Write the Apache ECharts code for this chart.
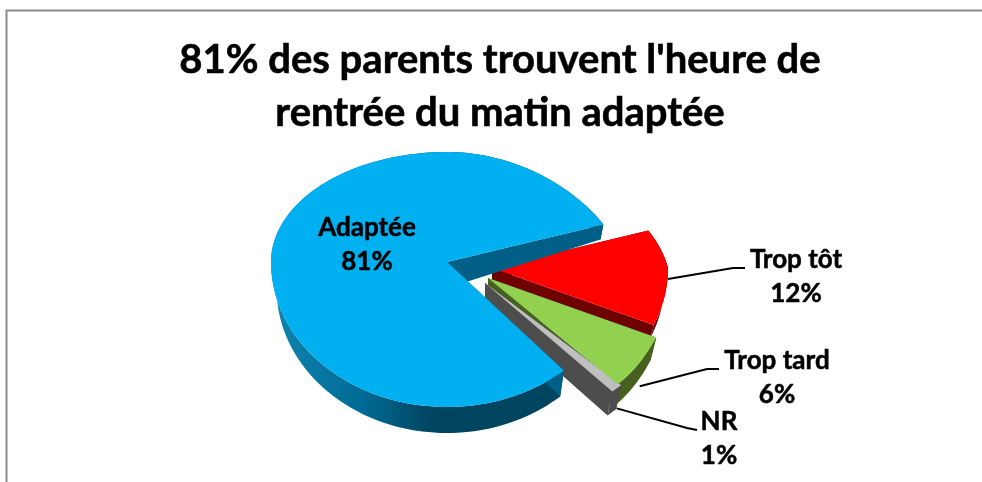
<!DOCTYPE html>
<html>
<head>
<meta charset="utf-8">
<title>Heure de rentrée</title>
<style>
  html, body { margin: 0; padding: 0; background: #fff; }
  #chart { width: 982px; height: 482px; }
</style>
<script src="https://cdn.jsdelivr.net/npm/echarts@6/dist/echarts.min.js"></script>
</head>
<body>
<div id="chart"></div>
<script>
  const categories = ['Adaptée', 'Trop tôt', 'Trop tard', 'NR'];
  const values = [81, 12, 6, 1];

  // the pie is seen from above, so the part behind the centre is flatter than the front
  const rx = 176, ryBack = 110, ryFront = 145;
  const firstAngle = -48.4;

  // one entry per category, same order. zSide / zTop give the painting order
  const sliceStyles = [
    { cx: 447, cy: 262, sx: 1, sy: 1, depth: null, top: '#00B0F0', side: '#005F86', zSide: 7, zTop: 8 },
    { cx: 492, cy: 268, sx: 1, sy: 1, depth: 12, top: '#FF0000', side: '#6E0000', zSide: 1, zTop: 6 },
    { cx: 488, cy: 278, sx: 1.04, sy: 1.04, depth: 23, top: '#92D050', side: '#46601F', zSide: 2, zTop: 5 },
    { cx: 485, cy: 283, sx: 1.09, sy: 1, depth: 24, top: '#BFBFBF', side: '#4D4D4D', zSide: 3, zTop: 4 }
  ];
  const labelStyles = [
    { x: 367, y: 245 },
    { x: 796, y: 277, elbow: [[733, 268], [745, 268]], drop: 7 },
    { x: 777, y: 378, elbow: [[707, 369], [719, 369]], drop: 24 },
    { x: 719, y: 439, elbow: [[687, 428], [697, 430]], drop: 20 }
  ];

  const rimGradient = new echarts.graphic.LinearGradient(271, 0, 566, 0, [
    { offset: 0, color: '#1284AE' },
    { offset: 0.3, color: '#006C96' },
    { offset: 0.55, color: '#00445F' },
    { offset: 1, color: '#00455F' }
  ], true);

  function project(s, deg) {
    const a = deg * Math.PI / 180;
    const u = Math.cos(a), v = Math.sin(a);
    const narrow = u > 0 && v > 0 ? 1 - 0.16 * v : 1;
    return [
      s.cx + rx * s.sx * u * narrow,
      s.cy - (v > 0 ? ryBack : ryFront) * s.sy * v
    ];
  }

  function arc(s, from, to) {
    const pts = [];
    const n = Math.max(2, Math.ceil(Math.abs(to - from) / 2));
    for (let i = 0; i <= n; i++) {
      pts.push(project(s, from + (to - from) * i / n));
    }
    return pts;
  }

  function depthAt(s, p) {
    if (s.depth != null) return s.depth;
    return Math.min(26, Math.max(15, 15 + (p[1] - 227) * 0.31));
  }

  // verticals lean slightly towards the middle of the pie
  function lowered(s, pts) {
    return pts.map(function (p) {
      const d = depthAt(s, p);
      return [p[0] - (p[0] - 447) * 0.03 * d / 25, p[1] + d];
    });
  }

  function angleRange(index) {
    const total = values.reduce(function (a, b) { return a + b; }, 0);
    let before = 0;
    for (let i = 0; i < index; i++) before += values[i];
    const from = firstAngle - before / total * 360;
    return [from, from - values[index] / total * 360];
  }

  function renderSlice(params, api) {
    const i = params.dataIndex;
    const s = sliceStyles[i], l = labelStyles[i];
    const range = angleRange(i);
    const from = range[0], to = range[1];
    const outer = arc(s, from, to);
    const centre = [s.cx, s.cy];
    const first = outer[0], last = outer[outer.length - 1];
    const children = [];

    function poly(points, fill, z2) {
      children.push({ type: 'polygon', z2: z2, shape: { points: points }, style: { fill: fill, stroke: null } });
    }

    const rimFill = i === 0 ? rimGradient : s.side;
    poly(outer.concat(lowered(s, outer).reverse()), rimFill, s.zSide);
    // the two cut faces
    const centreLow = [s.cx, s.cy + (i === 0 ? 26 : s.depth)];
    poly([centre, first, lowered(s, [first])[0], centreLow], s.side, s.zSide);
    poly([centre, last, lowered(s, [last])[0], centreLow], s.side, s.zSide);
    poly([centre].concat(outer), s.top, s.zTop);

    if (l.elbow) {
      const mid = project(s, (from + to) / 2);
      children.push({
        type: 'polyline',
        z2: 30,
        shape: { points: [[mid[0], mid[1] + l.drop]].concat(l.elbow) },
        style: { stroke: '#000', lineWidth: 2, fill: null }
      });
    }
    children.push({
      type: 'text',
      z2: 31,
      x: l.x,
      y: l.y,
      style: {
        text: api.value(0) + '\n' + api.value(1) + '%',
        fill: '#000',
        stroke: '#000',
        lineWidth: 0.5,
        font: 'bold 26px Lato',
        lineHeight: 34,
        align: 'center',
        verticalAlign: 'middle'
      }
    });
    return { type: 'group', children: children };
  }

  const chart = echarts.init(document.getElementById('chart'), null, { renderer: 'canvas' });
  chart.setOption({
    animation: false,
    backgroundColor: '#fff',
    title: {
      text: "81% des parents trouvent l'heure de\nrentrée du matin adaptée",
      left: 495,
      top: 29,
      textAlign: 'center',
      textStyle: {
        fontFamily: 'Lato',
        fontWeight: 'bold',
        fontSize: 40,
        lineHeight: 53,
        color: '#000',
        textBorderColor: '#000',
        textBorderWidth: 0.6
      }
    },
    graphic: [
      {
        type: 'polyline',
        silent: true,
        shape: { points: [[6.5, 482], [6.5, 10.5], [982, 10.5]] },
        style: { stroke: '#8C8C8C', lineWidth: 2, fill: null }
      }
    ],
    series: [
      {
        type: 'custom',
        coordinateSystem: 'none',
        silent: true,
        encode: { itemName: 0, value: 1 },
        data: categories.map(function (name, i) { return [name, values[i]]; }),
        renderItem: renderSlice
      }
    ]
  });
  window.addEventListener('resize', function () {
    chart.resize();
  });
</script>
</body>
</html>
